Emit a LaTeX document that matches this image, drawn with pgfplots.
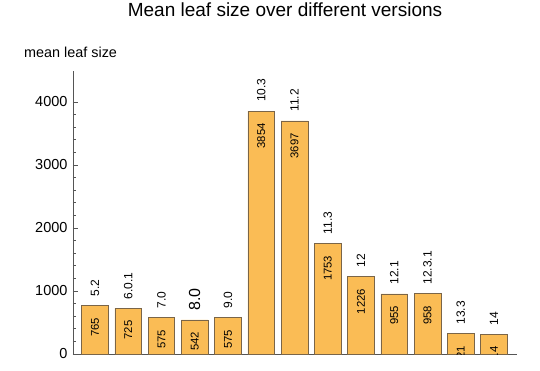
\documentclass[border=0pt]{standalone}
\usepackage{fontspec}
\setmainfont{Liberation Sans}
\usepackage{pgfplots}
\pgfplotsset{compat=1.18}
\definecolor{barfill}{HTML}{FABC55}
\definecolor{baredge}{HTML}{7A6548}
\definecolor{axgray}{HTML}{555555}
\protected\def\bigver#1{{\fontsize{16}{16}\selectfont #1}}
\begin{document}
\begin{tikzpicture}
\begin{axis}[
 at={(0pt,0pt)}, anchor=south west,
 scale only axis, width=444pt, height=283pt,
 xmin=-0.66, xmax=12.69, ymin=0, ymax=4490,
 clip marker paths=true,
 axis x line*=bottom, axis y line*=left,
 axis line style={axgray, line width=0.6pt},
 xtick=\empty,
 ytick={0,1000,2000,3000,4000},
 minor y tick num=4,
 tick align=inside,
 major tick length=5pt, minor tick length=3pt,
 tick style={axgray, line width=0.6pt},
 yticklabel style={font=\fontsize{14.5}{14.5}\selectfont, xshift=-2pt},
 /pgf/number format/assume math mode=true,
 /pgf/number format/1000 sep={},
 title={Mean leaf size over different versions},
 every axis title/.style={at={(axis description cs:0.4775,1.1908)}, anchor=base, inner sep=0pt, font=\fontsize{19}{19}\selectfont},
 ylabel={mean leaf size},
 ylabel style={at={(axis description cs:-0.1104,1.0477)}, rotate=-90, anchor=base west, inner sep=0pt, font=\fontsize{14.4}{14.4}\selectfont},
]
\addplot[ybar, bar width=0.8, bar shift=0pt, fill=barfill, draw=baredge, line width=0.6pt,
 point meta=explicit symbolic, nodes near coords,
 every node near coord/.style={font=\fontsize{11.3}{11.3}\selectfont, yshift=-12pt, rotate=90, anchor=east, inner sep=0pt, black}]
 coordinates {
 (0,765)[765] (1,725)[725] (2,575)[575] (3,542)[542] (4,575)[575]
 (5,3854)[3854] (6,3697)[3697] (7,1753)[1753] (8,1226)[1226]
 (9,955)[955] (10,958)[958] (11,321)[321] (12,314)[314]
 };
\addplot[draw=none, mark=none, point meta=explicit symbolic, nodes near coords,
 every node near coord/.style={font=\fontsize{12}{12}\selectfont, yshift=9pt, rotate=90, anchor=west, inner sep=0pt, black}]
 coordinates {
 (0,765)[5.2] (1,725)[6.0.1] (2,575)[7.0] (3,542)[\bigver{8.0}] (4,575)[9.0]
 (5,3854)[10.3] (6,3697)[11.2] (7,1753)[11.3] (8,1226)[12]
 (9,955)[12.1] (10,958)[12.3.1] (11,321)[13.3] (12,314)[14]
 };
\end{axis}
\pgfresetboundingbox
\path (-73pt,-16pt) rectangle (467pt,354pt);
\end{tikzpicture}
\end{document}
